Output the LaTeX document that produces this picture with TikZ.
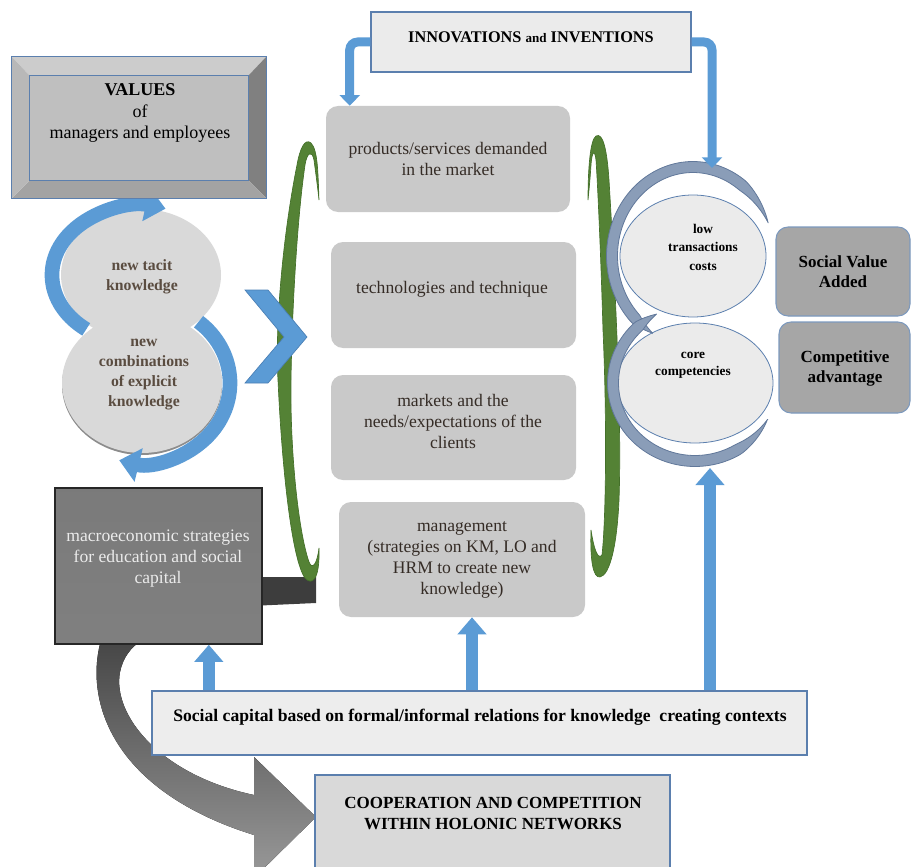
\documentclass[tikz,border=0pt]{standalone}
\usepackage{fontspec}
\setmainfont{Liberation Serif}
\usetikzlibrary{arrows.meta,fit,calc,shapes.geometric}
\definecolor{ablue}{HTML}{5B9BD5}
\definecolor{ablueD}{HTML}{4A7FB5}
\definecolor{agreen}{HTML}{548235}
\definecolor{agreenD}{HTML}{44702A}
\definecolor{aslate}{HTML}{8A9DB8}
\definecolor{aslateD}{HTML}{61789A}
\definecolor{bblue}{HTML}{5B7FAE}
\definecolor{cgray}{HTML}{C9C9C9}
\definecolor{lgray}{HTML}{D9D9D9}
\definecolor{egray}{HTML}{EBEBEB}
\definecolor{sgray}{HTML}{A6A6A6}
\definecolor{ctext}{HTML}{352C26}
\definecolor{ktext}{HTML}{5A4C40}
\newcommand\fsz[2]{\fontsize{#1}{#2}\selectfont}
\begin{document}
\begin{tikzpicture}[x=0.75pt,y=0.75pt,
  cbox/.style={fill=cgray, rounded corners=9pt, inner sep=0pt},
  sbox/.style={fill=sgray, draw=bblue!80, line width=0.8pt, rounded corners=9pt, inner sep=0pt},
  lbox/.style={draw=bblue, line width=0.9pt, inner sep=0pt},
  circ/.style={ellipse, fill=lgray, inner sep=0pt},
  rell/.style={ellipse, fill=egray, draw=bblue, line width=0.6pt, inner sep=0pt},
  ctxt/.style={align=center, text=ctext, font=\fsz{13.2pt}{15.75pt}},
  ktxt/.style={align=center, text=ktext, font=\bfseries\fsz{11.8pt}{15pt}},
  uparrow/.style={draw=ablue, line width=9pt, -{Triangle[width=21pt,length=12.75pt]}},
  elbow/.style={draw=ablue, line width=6.75pt, rounded corners=6pt, -{Triangle[width=15pt,length=8pt]}},
  loopar/.style={draw=ablue, line width=11pt, -{Triangle[width=25pt,length=15pt]}},
]
\useasboundingbox (0,0) rectangle (911,-867);
\clip (0,0) rectangle (911,-867);

% big curved arrow from macro box to cooperation box
\fill[top color=black!78, middle color=black!55, bottom color=black!40]
  (100,-600) -- (100,-644) .. controls (86,-700) and (110,-790) .. (254,-835)
  -- (254,-878) -- (316,-817) -- (254,-757) -- (254,-795)
  .. controls (160,-775) and (112,-715) .. (120,-672)
  .. controls (123,-658) and (130,-648) .. (142,-640) -- (142,-600) -- cycle;
\fill[black!76] (250,-577) -- (316,-577) -- (316,-603) -- (250,-606) -- cycle;

% green brackets
\filldraw[fill=agreen, draw=agreenD, line width=0.5pt]
 (319,-200) .. controls (318,-175) and (318,-150) .. (311,-143)
 .. controls (305,-138) and (300,-148) .. (297,-165)
 .. controls (282,-240) and (275,-330) .. (278,-380)
 .. controls (282,-470) and (292,-560) .. (305,-578)
 .. controls (312,-586) and (320,-580) .. (319,-548)
 .. controls (317,-565) and (312,-570) .. (309,-562)
 .. controls (298,-530) and (290,-450) .. (291,-380)
 .. controls (292,-310) and (297,-220) .. (305,-165)
 .. controls (307,-152) and (312,-150) .. (314,-160)
 .. controls (316,-175) and (318,-190) .. cycle;
\filldraw[fill=agreen, draw=agreenD, line width=0.5pt]
 (588,-200) .. controls (588,-170) and (590,-140) .. (596,-136)
 .. controls (603,-132) and (607,-150) .. (609,-180)
 .. controls (615,-280) and (622,-420) .. (619,-500)
 .. controls (617,-545) and (610,-575) .. (600,-577)
 .. controls (593,-578) and (590,-560) .. (591,-530)
 .. controls (594,-550) and (598,-560) .. (602,-555)
 .. controls (606,-520) and (607,-420) .. (603,-330)
 .. controls (601,-260) and (598,-190) .. (596,-160)
 .. controls (595,-150) and (592,-150) .. (591,-165)
 .. controls (590,-180) and (589,-190) .. cycle;

% chevron
\filldraw[fill=ablue, draw=ablueD, line width=0.5pt]
 (245,-290) -- (268,-290) -- (307,-337) -- (268,-383) -- (245,-383) -- (284,-337) -- cycle;

% central boxes
\node[cbox, fit={(326,-106) (570,-212)}] (prod) {};
\node[ctxt] at (448,-159) {products/services demanded\\in the market};
\node[cbox, fit={(331,-242) (576,-348)}] (tech) {};
\node[ctxt] at (452,-289) {technologies and technique};
\node[cbox, fit={(331,-375) (576,-480)}] (mark) {};
\node[ctxt] at (453,-421) {markets and the\\needs/expectations of the\\clients};
\node[cbox, fit={(339,-502) (585,-617)}] (mgmt) {};
\node[ctxt] at (462,-560) {management\\(strategies on KM, LO and\\HRM to create new\\knowledge)};

% left circles with loop arrows
\node[circ, minimum width=120pt, minimum height=99pt] (tacit) at (141,-275) {};
\draw[loopar] ($(tacit.center)+(232:89 and 69)$) arc[start angle=232, end angle=74, x radius=89, y radius=69];
\fill[black!45] (142,-385) ellipse [x radius=80, y radius=70];
\node[circ, minimum width=120pt, minimum height=105pt] (combo) at (142,-383) {};
\draw[loopar] ($(combo.center)+(50:88 and 80)$) arc[start angle=50, end angle=-105, x radius=88, y radius=80];
\node[ktxt] at (142,-277) {new tacit\\knowledge};
\node[ktxt] at (144,-375) {new\\combinations\\of explicit\\knowledge};

% right ellipses with arcs
\node[rell, minimum width=109.5pt, minimum height=91.5pt] (lowtc) at (693,-256) {};
\node[rell, minimum width=117pt, minimum height=90pt] (corec) at (695,-383) {};
\fill[aslate, draw=aslateD, line width=0.6pt]
 plot[domain=22:240, samples=90, variable=\t] ({693+(81+5.5*min(1,(\t-22)/30,(240-\t)/15))*cos(\t)}, {-256+(89+5.5*min(1,(\t-22)/30,(240-\t)/15))*sin(\t)})
 -- plot[domain=240:22, samples=90, variable=\t] ({693+(81-5.5*min(1,(\t-22)/30,(240-\t)/15))*cos(\t)}, {-256+(89-5.5*min(1,(\t-22)/30,(240-\t)/15))*sin(\t)}) -- cycle;
\fill[aslate, draw=aslateD, line width=0.6pt]
 plot[domain=118:332, samples=90, variable=\t] ({695+(82+5.5*min(1,(\t-118)/15,(332-\t)/30))*cos(\t)}, {-383+(78+5.5*min(1,(\t-118)/15,(332-\t)/30))*sin(\t)})
 -- plot[domain=332:118, samples=90, variable=\t] ({695+(82-5.5*min(1,(\t-118)/15,(332-\t)/30))*cos(\t)}, {-383+(78-5.5*min(1,(\t-118)/15,(332-\t)/30))*sin(\t)}) -- cycle;
\node[align=center, font=\bfseries\fsz{10pt}{13.9pt}] at (703,-247) {low\\transactions\\costs};
\node[align=center, font=\bfseries\fsz{10pt}{12.5pt}] at (693,-365) {core\\competencies};

% result boxes
\node[sbox, fit={(776,-227) (910,-316)}] (sva) {};
\node[align=center, font=\bfseries\fsz{12.75pt}{15pt}] at (843,-272) {Social Value\\Added};
\node[sbox, fit={(779,-322) (910,-413)}] (comp) {};
\node[align=center, font=\bfseries\fsz{12.75pt}{15pt}] at (845,-368) {Competitive\\advantage};

% innovations
\node[lbox, fill=egray, fit={(371,-12) (691,-72)}] (innov) {};
\node[font=\bfseries\fsz{12.2pt}{14pt}] at (531,-37) {INNOVATIONS {\fsz{9.8pt}{11pt}and} INVENTIONS};
\coordinate (prodIn) at ([xshift=18pt]prod.north west);
\draw[elbow] (innov.west) -| (prodIn);
\coordinate (lowIn) at (712,-168);
\draw[elbow] (innov.east) -| (lowIn);

% macro box
\node[fit={(55,-488) (262,-644)}, inner sep=0pt, draw=black!85, line width=1.2pt,
      top color=black!52, middle color=black!58, bottom color=black!50] (macro) {};
\node[align=center, text=white!92!black, font=\fsz{13.2pt}{15.75pt}] at (158,-559) {macroeconomic strategies\\for education and social\\capital};

% values box (bevel)
\node[fit={(12,-57) (266,-198)}, inner sep=0pt] (values) {};
\node[fit={(30,-76) (248,-180)}, inner sep=0pt] (valin) {};
\fill[black!20] (values.north west) -- (values.north east) -- (valin.north east) -- (valin.north west) -- cycle;
\fill[black!50] (values.north east) -- (values.south east) -- (valin.south east) -- (valin.north east) -- cycle;
\fill[black!36] (values.south east) -- (values.south west) -- (valin.south west) -- (valin.south east) -- cycle;
\fill[black!28] (values.south west) -- (values.north west) -- (valin.north west) -- (valin.south west) -- cycle;
\filldraw[fill=black!25, draw=bblue, line width=0.8pt] (valin.north west) rectangle (valin.south east);
\draw[bblue, line width=1pt] (values.north west) rectangle (values.south east);
\node[align=center, font=\fsz{13.5pt}{16pt}] at (140,-113) {\textbf{VALUES}\\of\\managers and employees};

% social capital
\node[lbox, fill=black!7, fit={(152,-691) (807,-755)}] (social) {};
\node[font=\bfseries\fsz{13.2pt}{15pt}] at (480,-717) {Social capital based on formal/informal relations for knowledge\ \ creating contexts};
\coordinate (a1) at ([xshift=-40.5pt]macro.south east);
\draw[uparrow] (social.north -| a1) -- (a1);
\coordinate (a2) at ([xshift=7.5pt]mgmt.south);
\draw[uparrow] (social.north -| a2) -- (a2);
\coordinate (a3) at (710,-468);
\draw[uparrow] (social.north -| a3) -- (a3);

% cooperation
\node[lbox, fill=lgray, fit={(315,-775) (670,-868)}] (coop) {};
\node[align=center, font=\bfseries\fsz{12.75pt}{15.75pt}] at (493,-813) {COOPERATION AND COMPETITION\\WITHIN HOLONIC NETWORKS};
\end{tikzpicture}
\end{document}
